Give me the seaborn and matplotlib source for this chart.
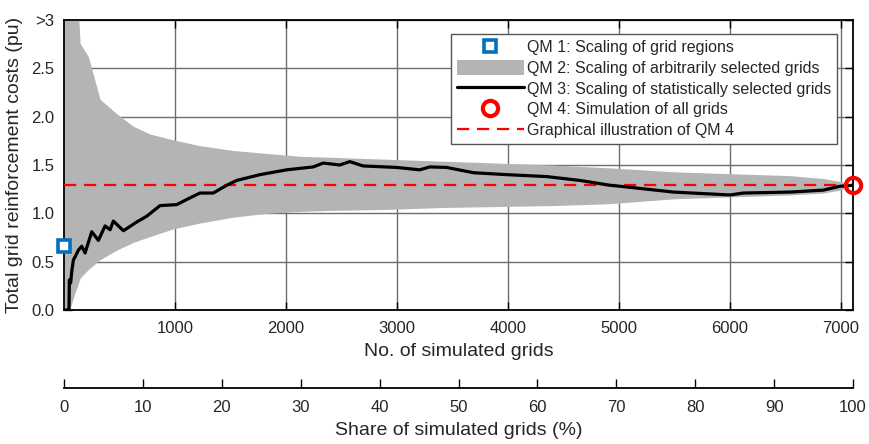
import numpy as np
import pandas as pd
import matplotlib
matplotlib.use("Agg")
import matplotlib.pyplot as plt
import seaborn as sns
from matplotlib.lines import Line2D
from matplotlib.patches import Patch

# ---------------- data ----------------
n_total = 7108          # total number of grids (= 100 %)
qm1_value = 0.66        # QM 1: scaling of grid regions
qm4_value = 1.29        # QM 4: simulation of all grids

# QM 2 envelope (range of arbitrarily selected grids)
env_x = [0, 50, 100, 125, 145, 220, 325, 475, 625, 775, 985, 1225, 1525, 1825,
         2125, 2400, 2900, 3400, 3900, 4400, 4920, 5490, 6000, 6540, 6840, 6990, 7108]
env_upper = [3.2, 3.2, 3.2, 3.2, 2.76, 2.62, 2.18, 2.03, 1.90, 1.82, 1.76, 1.70, 1.65,
             1.62, 1.59, 1.58, 1.56, 1.54, 1.52, 1.50, 1.47, 1.43, 1.41, 1.39, 1.36, 1.33, 1.29]
env_lower = [0.0, 0.0, 0.18, 0.26, 0.33, 0.42, 0.52, 0.62, 0.70, 0.76, 0.84, 0.90, 0.96,
             1.00, 1.02, 1.03, 1.04, 1.06, 1.07, 1.08, 1.10, 1.15, 1.17, 1.19, 1.21, 1.24, 1.29]

# QM 3: statistically selected grids
qm3_x = [0, 45, 48, 60, 70, 85, 100, 130, 160, 190, 250, 310, 370, 415, 445, 535, 655,
         745, 865, 1015, 1135, 1225, 1345, 1465, 1555, 1765, 2005, 2245, 2335, 2485,
         2575, 2695, 2995, 3205, 3295, 3445, 3690, 3990, 4350, 4650, 4920, 5010, 5490,
         6000, 6120, 6540, 6840, 6990, 7108]
qm3_y = [0.0, 0.0, 0.31, 0.28, 0.40, 0.52, 0.55, 0.62, 0.66, 0.59, 0.81, 0.72, 0.87,
         0.83, 0.92, 0.82, 0.91, 0.97, 1.08, 1.09, 1.16, 1.21, 1.21, 1.29, 1.34, 1.40,
         1.45, 1.48, 1.52, 1.50, 1.535, 1.49, 1.475, 1.45, 1.48, 1.475, 1.42, 1.40, 1.38,
         1.34, 1.29, 1.28, 1.22, 1.19, 1.21, 1.22, 1.24, 1.28, 1.29]

y_ticks = [0.0, 0.5, 1.0, 1.5, 2.0, 2.5, 3.0]
y_ticklabels = ["0.0", "0.5", "1.0", "1.5", "2.0", "2.5", ">3"]
x_ticks = [1000, 2000, 3000, 4000, 5000, 6000, 7000]
share_ticks = [0, 10, 20, 30, 40, 50, 60, 70, 80, 90, 100]

# ---------------- style ----------------
sns.set_theme(style="white")
plt.rcParams["font.family"] = ["Liberation Sans", "DejaVu Sans"]

TXT = "#262626"
W, H = 869, 444
fig = plt.figure(figsize=(W / 100, H / 100), dpi=100)

ax_l, ax_r, ax_t, ax_b = 64, 853, 20, 310
ax = fig.add_axes([ax_l / W, 1 - ax_b / H, (ax_r - ax_l) / W, (ax_b - ax_t) / H])

# grid below data
ax.set_axisbelow(True)
ax.grid(True, color="#6e6e6e", linewidth=1.0)

# QM 2 band
ax.fill_between(env_x, env_lower, env_upper, color="#b4b4b4", linewidth=0, zorder=2)

# QM 4 dashed line
df_qm4 = pd.DataFrame({"x": [0, n_total], "y": [qm4_value, qm4_value]})
sns.lineplot(data=df_qm4, x="x", y="y", ax=ax, color="#ff0000", linewidth=1.6,
             zorder=3).lines[-1].set_dashes((5.5, 3.5))

# QM 3 line
df_qm3 = pd.DataFrame({"x": qm3_x, "y": qm3_y})
sns.lineplot(data=df_qm3, x="x", y="y", ax=ax, color="black", linewidth=2.3,
             sort=False, zorder=4)

# QM 1 marker and QM 4 marker
ax.plot([0], [qm1_value], marker="s", markersize=8, markerfacecolor="white",
        markeredgecolor="#0072BD", markeredgewidth=2.6, linestyle="none",
        clip_on=False, zorder=6)
ax.plot([n_total], [qm4_value], marker="o", markersize=11, markerfacecolor="none",
        markeredgecolor="#ff0000", markeredgewidth=3, linestyle="none",
        clip_on=False, zorder=6)

ax.set_xlim(0, n_total)
ax.set_ylim(0, 3)
ax.set_yticks(y_ticks)
ax.set_yticklabels(y_ticklabels)
ax.set_xticks(x_ticks)
ax.set_xticklabels([str(t) for t in x_ticks])
ax.tick_params(axis="both", direction="in", length=6, width=1, color="black",
               labelsize=12, labelcolor=TXT, top=True, right=True,
               bottom=True, left=True)
ax.tick_params(axis="x", pad=8)
ax.tick_params(axis="y", pad=7)
for s in ax.spines.values():
    s.set_color("black")
    s.set_linewidth(1.3)
    s.set_visible(True)

ax.set_xlabel("No. of simulated grids", fontsize=14, color=TXT, labelpad=5)
ax.set_ylabel("Total grid reinforcement costs (pu)", fontsize=14, color=TXT, labelpad=6)

# legend
handles = [
    Line2D([], [], marker="s", markersize=8, markerfacecolor="white",
           markeredgecolor="#0072BD", markeredgewidth=2.6, linestyle="none"),
    Patch(facecolor="#b4b4b4", edgecolor="none"),
    Line2D([], [], color="black", linewidth=2.3),
    Line2D([], [], marker="o", markersize=11, markerfacecolor="white",
           markeredgecolor="#ff0000", markeredgewidth=3, linestyle="none"),
    Line2D([], [], color="#ff0000", linewidth=1.6, dashes=(5.5, 3.5)),
]
labels = ["QM 1: Scaling of grid regions",
          "QM 2: Scaling of arbitrarily selected grids",
          "QM 3: Scaling of statistically selected grids",
          "QM 4: Simulation of all grids",
          "Graphical illustration of QM 4"]
leg = ax.legend(handles, labels, loc="upper right",
                bbox_to_anchor=(1 - 16 / (ax_r - ax_l), 1 - 14 / (ax_b - ax_t)),
                borderaxespad=0, fontsize=11.5, frameon=True, fancybox=False,
                framealpha=1, edgecolor="#555555", handlelength=4.2,
                handleheight=1.05, handletextpad=0.2, labelspacing=0.3,
                borderpad=0.35)
leg.get_frame().set_linewidth(1.0)
for t in leg.get_texts():
    t.set_color(TXT)
leg.set_zorder(10)

# secondary axis: share of simulated grids
sec_y = 388
ax2 = fig.add_axes([ax_l / W, 1 - sec_y / H, (ax_r - ax_l) / W, 0.0001])
ax2.set_xlim(0, 100)
ax2.set_xticks(share_ticks)
ax2.set_xticklabels([str(t) for t in share_ticks])
ax2.set_yticks([])
for k in ["top", "left", "right"]:
    ax2.spines[k].set_visible(False)
ax2.spines["bottom"].set_color("black")
ax2.spines["bottom"].set_linewidth(1.3)
ax2.set_facecolor("none")
ax2.tick_params(axis="x", direction="in", length=6.5, width=1, color="black",
                labelsize=12, labelcolor=TXT, pad=9, bottom=True, top=False)
ax2.set_xlabel("Share of simulated grids (%)", fontsize=14, color=TXT, labelpad=5)

fig.savefig("out.png", dpi=100)
